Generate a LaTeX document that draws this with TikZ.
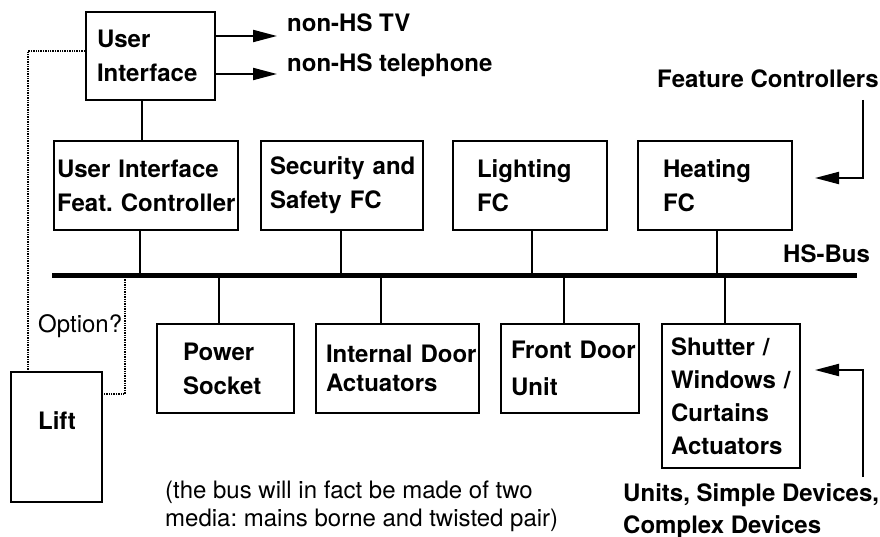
\documentclass[tikz,border=0pt]{standalone}
\usepackage{fontspec}
\setmainfont{TeX Gyre Heros}
\usetikzlibrary{arrows.meta}
\frenchspacing
\tikzset{
  box/.style={draw,line width=2.2pt,inner sep=0pt,align=left,
    font=\bfseries\fontsize{24}{34}\selectfont},
  fcbox/.style={box,minimum height=89pt},
  unitbox/.style={box,minimum height=89pt},
  lbl/.style={inner sep=0pt,font=\bfseries\fontsize{24}{32}\selectfont},
  note/.style={inner sep=0pt,align=left,font=\fontsize{24}{28}\selectfont},
  bus/.style={line width=5pt},
  drop/.style={line width=2.5pt},
  arr/.style={line width=2pt,-{Triangle[length=24pt,width=12pt]}},
  opt/.style={densely dotted,line width=1.4pt}
}
\begin{document}
\begin{tikzpicture}[x=1pt,y=-1pt]
  \useasboundingbox (0,0) rectangle (880,537);
  % user interface and feature controllers
  \node[box,minimum width=129pt,minimum height=88pt,text width=107pt] (ui) at (150.5,56) {User\\Interface};
  \node[fcbox,minimum width=184pt,text width=178pt] (uifc) at (146,185.5) {\mbox{User Interface}\\\mbox{Feat.\ Controller}};
  \node[fcbox,minimum width=162pt,text width=144pt] (secfc) at (342,185.5) {\mbox{Security and}\\Safety~FC};
  \node[fcbox,minimum width=154pt,text width=106pt] (lightfc) at (530,185.5) {Lighting\\FC};
  \node[fcbox,minimum width=154pt,text width=104pt] (heatfc) at (715,185.5) {Heating\\FC};
  % units and devices
  \node[unitbox,minimum width=137pt,text width=85pt] (power) at (225.5,368.5) {Power\\Socket};
  \node[unitbox,minimum width=163pt,text width=143pt,font=\bfseries\fontsize{24}{29}\selectfont] (intdoor) at (397.5,368.5) {\mbox{Internal Door}\\Actuators};
  \node[unitbox,minimum width=138pt,text width=118pt,font=\bfseries\fontsize{24}{37}\selectfont] (frontdoor) at (570,368.5) {\mbox{Front Door}\\Unit};
  \node[box,minimum width=138pt,minimum height=144pt,text width=120pt,font=\bfseries\fontsize{24}{33}\selectfont] (shutter) at (731,396) {\mbox{Shutter /}\\\mbox{Windows /}\\Curtains\\Actuators};
  \node[box,minimum width=91pt,minimum height=130pt,
    label={[lbl,anchor=base west,xshift=28pt,yshift=-59pt]north west:Lift}] (lift) at (56.5,437) {};
  % free labels
  \node[lbl,anchor=base west] (tv) at (287,32) {non-HS TV};
  \node[lbl,anchor=base west] (tel) at (287,72) {non-HS telephone};
  \node[lbl,anchor=base west] (fclabel) at (657,88) {Feature Controllers};
  \node[lbl,anchor=base west] (buslabel) at (783,262) {HS-Bus};
  \node[note,anchor=base west] (optlabel) at (38,332) {Option?};
  \node[note,anchor=north west] (busnote) at (165,481) {(the bus will in fact be made of two\\media: mains borne and twisted pair)};
  \node[lbl,align=left,anchor=north west] (unitlabel) at (623,483) {Units, Simple Devices,\\Complex Devices};
  % bus
  \coordinate (busW) at (52,275);
  \coordinate (busE) at (857,275);
  \draw[bus] (busW) -- (busE);
  \foreach \x/\nm in {140/uifc,341/secfc,532/lightfc,717/heatfc}
    \draw[drop] (\x,275) -- (\nm.south -| \x,275);
  \foreach \x/\nm in {219/power,381/intdoor,564/frontdoor,725/shutter}
    \draw[drop] (\x,275) -- (\nm.north -| \x,275);
  \coordinate (uitap) at (142,120);
  \draw[drop] (ui.south -| uitap) -- (uifc.north -| uitap);
  % outputs
  \coordinate (tvin) at (277,36);
  \coordinate (telin) at (277,74);
  \draw[arr] ([yshift=20pt]ui.east) -- (tvin);
  \draw[arr] ([yshift=-18pt]ui.east) -- (telin);
  \coordinate (fctop) at (863,100);
  \coordinate (fcin) at (815,178);
  \draw[arr] (fctop) |- (fcin);
  \coordinate (unbot) at (863,477);
  \coordinate (unin) at (815,370);
  \draw[arr] (unbot) |- (unin);
  % lift options
  \coordinate (optbus) at (125,277);
  \draw[opt] (optbus) |- ([yshift=-23pt]lift.north east);
  \draw[opt] ([yshift=5pt]ui.west) -| ([xshift=18pt]lift.north west);
\end{tikzpicture}
\end{document}
